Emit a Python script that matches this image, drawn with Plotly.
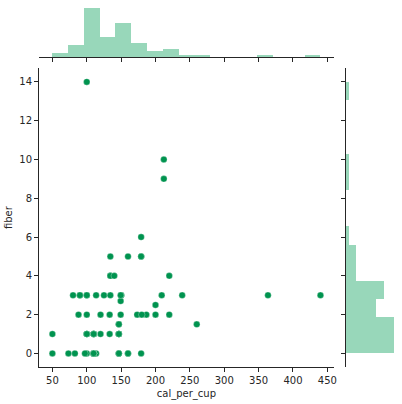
import numpy as np
import plotly.graph_objects as go

# cereal data: calories per cup and fiber (grams)
cal_per_cup = [212.1, 120.0, 212.1, 100.0, 146.7, 146.7, 110.0, 173.3, 134.3, 134.3,
               160.0, 88.0, 160.0, 220.0, 110.0, 110.0, 100.0, 110.0, 110.0, 220.0,
               100.0, 110.0, 133.3, 133.3, 110.0, 146.7, 125.0, 179.1, 179.1, 146.7,
               113.6, 146.7, 113.6, 440.0, 363.6, 120.0, 146.7, 82.7, 110.0, 186.7,
               73.3, 149.3, 110.0, 100.0, 150.0, 150.0, 238.8, 100.0, 179.1, 209.0,
               90.0, 260.0, 179.1, 100.0, 50.0, 50.0, 200.0, 149.3, 160.0, 200.0,
               180.0, 97.3, 110.0, 80.0, 134.3, 134.3, 146.7, 110.0, 90.0, 110.0,
               140.0, 100.0, 146.7, 110.0, 149.3, 100.0, 146.7]
fiber = [10, 2, 9, 14, 1, 1.5, 1, 2, 4, 5,
         0, 2, 0, 2, 0, 0, 1, 1, 0, 4,
         1, 1, 2, 1, 1, 1, 3, 5, 5, 0,
         0, 0, 3, 3, 3, 1, 1.5, 0, 1, 2,
         0, 2, 0, 0, 3, 3, 3, 2, 0, 3,
         3, 1.5, 6, 1, 0, 1, 2, 2.7, 5, 2.5,
         2, 0, 0, 3, 4, 3, 1, 1, 3, 0,
         4, 3, 0, 0, 3, 3, 1]
x_bins = 17
y_bins = 15
x_ticks = [50, 100, 150, 200, 250, 300, 350, 400, 450]
y_ticks = [0, 2, 4, 6, 8, 10, 12, 14]

DOT = "#00934f"
HIST = "rgb(152,215,186)"
INK = "#262626"
FONT = dict(family="DejaVu Sans", size=10, color=INK)

x = np.array(cal_per_cup)
y = np.array(fiber)
xpad = (x.max() - x.min()) * 0.05
ypad = (y.max() - y.min()) * 0.05
xr = [x.min() - xpad, x.max() + xpad]
yr = [y.min() - ypad, y.max() + ypad]

xc, xe = np.histogram(x, bins=x_bins)
yc, ye = np.histogram(y, bins=y_bins)

fig = go.Figure()
fig.add_trace(go.Scatter(x=cal_per_cup, y=fiber, mode="markers",
                         marker=dict(color=DOT, size=6.5, line=dict(color="white", width=0.3)),
                         xaxis="x", yaxis="y", showlegend=False))
fig.add_trace(go.Bar(x=(xe[:-1] + xe[1:]) / 2, y=xc, width=np.diff(xe),
                     marker=dict(color=HIST, line=dict(width=0)),
                     xaxis="x2", yaxis="y2", showlegend=False))
fig.add_trace(go.Bar(y=(ye[:-1] + ye[1:]) / 2, x=yc, width=np.diff(ye), orientation="h",
                     marker=dict(color=HIST, line=dict(width=0)),
                     xaxis="x3", yaxis="y3", showlegend=False))

common = dict(showgrid=False, zeroline=False, showline=True, linecolor=INK, linewidth=1,
              ticks="outside", ticklen=4, tickwidth=1, tickcolor=INK, tickfont=FONT,
              automargin=False)

fig.update_layout(
    width=402, height=404,
    margin=dict(l=39, r=6, t=6, b=37),
    plot_bgcolor="white", paper_bgcolor="white",
    bargap=0, font=FONT,
    xaxis=dict(domain=[0, 0.826], range=xr, tickvals=x_ticks, anchor="y",
               title=dict(text="cal_per_cup", font=FONT, standoff=4), **common),
    yaxis=dict(domain=[0, 0.8274], range=yr, tickvals=y_ticks, anchor="x",
               title=dict(text="fiber", font=FONT, standoff=4), **common),
    xaxis2=dict(domain=[0, 0.826], range=xr, tickvals=x_ticks, showticklabels=False,
                anchor="y2", **common),
    yaxis2=dict(domain=[0.8587, 1], range=[0, xc.max() * 1.05], visible=False, anchor="x2"),
    xaxis3=dict(domain=[0.859, 1], range=[0, yc.max() * 1.05], visible=False, anchor="y3"),
    yaxis3=dict(domain=[0, 0.8274], range=yr, tickvals=y_ticks, showticklabels=False,
                anchor="x3", side="left", **common),
)

fig.write_html("out.html", config={"displayModeBar": False},
               post_script="document.body.style.margin='0';")
